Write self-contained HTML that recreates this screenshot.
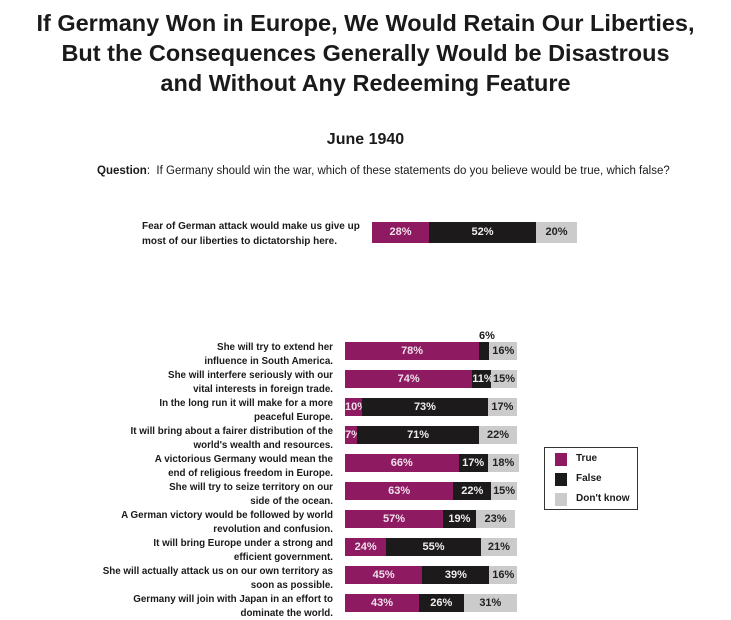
<!DOCTYPE html>
<html><head><meta charset="utf-8"><style>
body{margin:0;background:#fff;width:731px;height:619px;position:relative;overflow:hidden;font-family:"Liberation Sans",Arial,sans-serif;color:#1a1a1a}
.t{position:absolute;left:0;width:731px;text-align:center;font-weight:bold;font-size:23.5px;line-height:30px;top:8px}
.jn{position:absolute;left:0;width:731px;text-align:center;top:131px;font-weight:bold;font-size:16px}
.q{position:absolute;left:97px;top:165px;font-size:11.5px}
.lab{position:absolute;right:398px;text-align:right;font-weight:bold;font-size:9.8px;line-height:13.5px;width:300px}
.bar{position:absolute;height:18px;display:flex;font-weight:bold;font-size:11px;line-height:18px}
.bar div{text-align:center;overflow:visible;white-space:nowrap}
.m{background:#8e1a62;color:#f0e0ea}.k{background:#1c1a1b;color:#eee}.g{background:#cbcbcb;color:#222}
.leg{position:absolute;left:544px;top:447px;width:92px;height:61px;border:1px solid #333;font-size:10px;font-weight:bold}
.leg span{position:absolute;left:10px;width:12px;height:13px}
.leg i{position:absolute;left:31px;font-style:normal}
</style></head><body>
<div class="t">If Germany Won in Europe, We Would Retain Our Liberties,<br>But the Consequences Generally Would be Disastrous<br>and Without Any Redeeming Feature</div>
<div class="jn">June 1940</div>
<div class="q"><b>Question</b>:&nbsp; If Germany should win the war, which of these statements do you believe would be true, which false?</div>
<div style="position:absolute;left:142px;top:219px;font-weight:bold;font-size:10px;line-height:15px">Fear of German attack would make us give up<br>most of our liberties to dictatorship here.</div>
<div class="bar" style="left:372px;top:222px;height:21px;line-height:21px"><div class="m" style="width:57px">28%</div><div class="k" style="width:107px">52%</div><div class="g" style="width:41px">20%</div></div>
<div style="position:absolute;left:479px;top:330px;font-size:11px;font-weight:bold">6%</div>
<div id="rows"></div>
<div class="leg">
<span style="top:5px;background:#8e1a62"></span><i style="top:5px">True</i>
<span style="top:25px;background:#1c1a1b"></span><i style="top:25px">False</i>
<span style="top:45px;background:#cbcbcb"></span><i style="top:45px">Don't know</i>
</div>
<script>
var d=[["She will try to extend her","influence in South America.",78,6,16],
["She will interfere seriously with our","vital interests in foreign trade.",74,11,15],
["In the long run it will make for a more","peaceful Europe.",10,73,17],
["It will bring about a fairer distribution of the","world's wealth and resources.",7,71,22],
["A victorious Germany would mean the","end of religious freedom in Europe.",66,17,18],
["She will try to seize territory on our","side of the ocean.",63,22,15],
["A German victory would be followed by world","revolution and confusion.",57,19,23],
["It will bring Europe under a strong and","efficient government.",24,55,21],
["She will actually attack us on our own territory as","soon as possible.",45,39,16],
["Germany will join with Japan in an effort to","dominate the world.",43,26,31]];
var h="",s=1.72;
d.forEach(function(r,i){var y=342+i*28;
h+='<div class="lab" style="top:'+(y-1)+'px">'+r[0]+'<br>'+r[1]+'</div>';
h+='<div class="bar" style="left:345px;top:'+y+'px"><div class="m" style="width:'+(r[2]*s)+'px">'+r[2]+'%</div><div class="k" style="width:'+(r[3]*s)+'px">'+(r[3]>6?r[3]+'%':'')+'</div><div class="g" style="width:'+(r[4]*s)+'px">'+r[4]+'%</div></div>';});
document.getElementById("rows").innerHTML=h;
</script>
</body></html>
